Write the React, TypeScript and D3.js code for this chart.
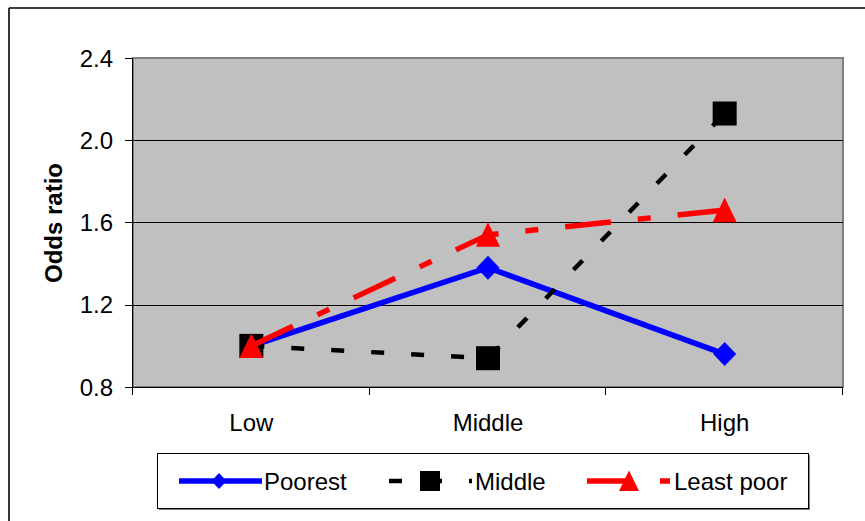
import React from "react";
import * as d3 from "d3";

const categories = ["Low", "Middle", "High"];
const poorest = [1.0, 1.38, 0.96];
const middle = [1.0, 0.94, 2.13];
const leastPoor = [1.0, 1.54, 1.66];
const yTicks = [0.8, 1.2, 1.6, 2.0, 2.4];
const seriesNames = ["Poorest", "Middle", "Least poor"];

const W = 865;
const H = 521;
const plot = { left: 133, right: 843, top: 58, bottom: 387 };
const FONT = "'Liberation Sans', Arial, sans-serif";

function marker(kind: string, cx: number, cy: number, s: number, color: string) {
  if (kind === "diamond") {
    const pts = [[0, -s], [s * 0.96, 0], [0, s], [-s * 0.96, 0]];
    return <polygon points={pts.map(p => `${cx + p[0]},${cy + p[1]}`).join(" ")} fill={color} />;
  }
  if (kind === "square") {
    return <rect x={cx - s} y={cy - s} width={2 * s} height={2 * s} fill={color} />;
  }
  const pts = [[0, -s * 1.05], [s, s], [-s, s]];
  return <polygon points={pts.map(p => `${cx + p[0]},${cy + p[1]}`).join(" ")} fill={color} />;
}

export default function App() {
  const x = d3.scaleBand<string>().domain(categories).range([plot.left, plot.right]);
  const y = d3.scaleLinear().domain([0.8, 2.4]).range([plot.bottom, plot.top]);
  const cx = (c: string) => (x(c) as number) + x.bandwidth() / 2;

  const series = [
    { name: seriesNames[0], values: poorest, color: "#0000ff", width: 5.5, dash: "none", marker: "diamond", ms: 12 },
    { name: seriesNames[1], values: middle, color: "#000000", width: 4.5, dash: "13 27", marker: "square", ms: 12 },
    { name: seriesNames[2], values: leastPoor, color: "#ff0000", width: 5.5, dash: "46 27 13 27", marker: "triangle", ms: 12 },
  ];

  const line = d3
    .line<number>()
    .x((_, i) => cx(categories[i]))
    .y(d => y(d));

  const bandEdges = [0, 1, 2].map(i => x(categories[i]) as number).concat([plot.right]);

  const legendItems = [
    { lineStart: 179, center: 219, textX: 264 },
    { lineStart: 389, center: 430, textX: 475 },
    { lineStart: 587, center: 629, textX: 674 },
  ];
  const legendMs = [8, 10, 10];

  return (
    <svg width={W} height={H} style={{ position: "absolute", left: 0, top: 0, background: "#fff" }}>
      {/* outer frame */}
      <line x1={9} y1={8} x2={W} y2={8} stroke="#000" strokeWidth={1.6} />
      <line x1={9} y1={8} x2={9} y2={H} stroke="#000" strokeWidth={1.6} />

      {/* plot area */}
      <rect x={plot.left} y={plot.top} width={plot.right - plot.left} height={plot.bottom - plot.top}
        fill="#c0c0c0" stroke="#808080" strokeWidth={2} />

      {/* gridlines */}
      {yTicks.slice(1, -1).map(t => (
        <line key={t} x1={plot.left} x2={plot.right} y1={Math.round(y(t)) + 0.5} y2={Math.round(y(t)) + 0.5}
          stroke="#000" strokeWidth={1} />
      ))}

      {/* y axis */}
      <line x1={plot.left - 0.5} x2={plot.left - 0.5} y1={plot.top} y2={plot.bottom} stroke="#000" strokeWidth={1} />
      {yTicks.map(t => (
        <g key={t}>
          <line x1={plot.left - 8} x2={plot.left} y1={Math.round(y(t)) + 0.5} y2={Math.round(y(t)) + 0.5} stroke="#000" />
          <text x={113} y={y(t) + 8.5} textAnchor="end" fontFamily={FONT} fontSize={24} fill="#000">
            {t.toFixed(1)}
          </text>
        </g>
      ))}
      <text transform={`translate(62,223) rotate(-90)`} textAnchor="middle" fontFamily={FONT}
        fontSize={24} fontWeight="bold" fill="#000">Odds ratio</text>

      {/* x axis */}
      <line x1={plot.left} x2={plot.right} y1={plot.bottom + 0.5} y2={plot.bottom + 0.5} stroke="#000" />
      {bandEdges.map((e, i) => (
        <line key={i} x1={Math.round(e) - 0.5} x2={Math.round(e) - 0.5} y1={plot.bottom} y2={plot.bottom + 8} stroke="#000" />
      ))}
      {categories.map(c => (
        <text key={c} x={cx(c)} y={431} textAnchor="middle" fontFamily={FONT} fontSize={24} fill="#000">{c}</text>
      ))}

      {/* series */}
      {series.map(s => (
        <g key={s.name}>
          <path d={line(s.values) as string} fill="none" stroke={s.color} strokeWidth={s.width}
            strokeDasharray={s.dash} />
          {s.values.map((v, i) => (
            <g key={i}>{marker(s.marker, cx(categories[i]), y(v), s.ms, s.color)}</g>
          ))}
        </g>
      ))}

      {/* legend */}
      <rect x={159} y={455} width={651} height={55} fill="#808080" />
      <rect x={157.5} y={453.5} width={651} height={55} fill="#fff" stroke="#000" strokeWidth={1} />
      {series.map((s, i) => {
        const it = legendItems[i];
        return (
          <g key={s.name}>
            <line x1={it.lineStart} x2={it.lineStart + 83} y1={481} y2={481} stroke={s.color}
              strokeWidth={s.width} strokeDasharray={s.dash} />
            {marker(s.marker, it.center, 481, legendMs[i], s.color)}
            <text x={it.textX} y={490} fontFamily={FONT} fontSize={24} fill="#000">{s.name}</text>
          </g>
        );
      })}
    </svg>
  );
}
